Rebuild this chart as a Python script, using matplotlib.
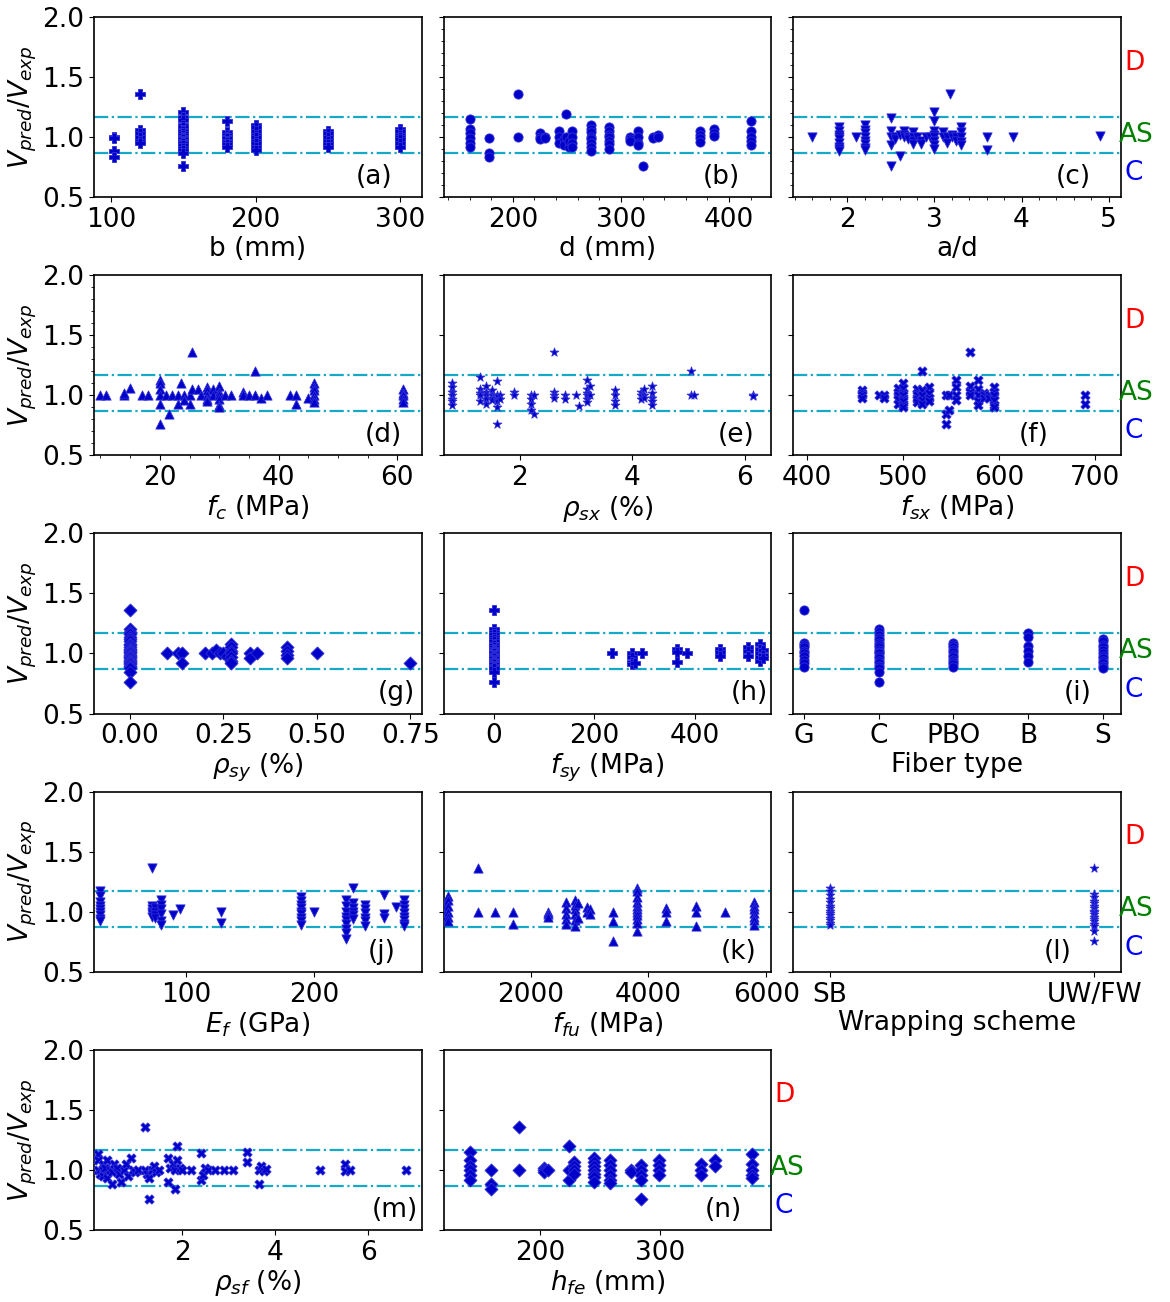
import matplotlib.pyplot as plt
import matplotlib.transforms as mtransforms

# V_pred/V_exp plotted against each parameter: (x value, [ratios at that x])
b_mm = [(102, [1.0, 0.99, 0.88, 0.83]),
        (120, [1.36, 1.06, 1.03, 1.0, 0.97, 0.95]),
        (150, [1.21, 1.17, 1.14, 1.1, 1.08, 1.06, 1.05, 1.03, 1.02, 1.0, 1.0, 0.99,
               0.98, 0.97, 0.96, 0.95, 0.93, 0.91, 0.89, 0.87, 0.76]),
        (180, [1.13, 1.04, 1.02, 1.0, 0.99, 0.97, 0.96, 0.94, 0.92]),
        (200, [1.1, 1.08, 1.05, 1.02, 1.0, 0.97, 0.95, 0.92, 0.89]),
        (250, [1.05, 1.03, 1.0, 0.97, 0.94, 0.92]),
        (300, [1.07, 1.05, 1.02, 1.0, 0.98, 0.95, 0.92])]

d_mm = [(160, [1.15, 1.07, 1.03, 0.99, 0.95, 0.92]),
        (178, [0.99, 0.87, 0.83]),
        (205, [1.36, 1.0]),
        (225, [1.03, 1.0, 0.98]),
        (230, [1.0, 0.99]),
        (243, [1.05, 1.0, 0.95]),
        (247, [0.98, 0.93]),
        (249, [1.19, 1.0]),
        (252, [0.92, 0.97]),
        (255, [1.05, 1.0, 0.95, 0.92]),
        (272, [1.1, 1.07, 1.04, 1.0, 0.98, 0.95, 0.92, 0.88]),
        (289, [1.08, 1.05, 1.02, 1.0, 0.97, 0.94, 0.9]),
        (308, [1.0, 0.98, 0.97]),
        (316, [1.05, 1.0, 0.95, 0.93]),
        (320, [0.76]),
        (330, [1.0, 0.99]),
        (334, [1.02, 1.0]),
        (373, [1.05, 1.02, 0.99, 0.96]),
        (386, [1.07, 1.03, 1.01]),
        (420, [1.13, 1.05, 1.0, 0.97, 0.93])]

a_d = [(1.6, [1.0]),
       (1.9, [1.08, 1.05, 1.02, 1.0, 0.98, 0.95, 0.92, 0.9, 0.88]),
       (2.1, [1.0]),
       (2.2, [1.1, 1.06, 1.03, 1.0, 0.97, 0.94, 0.91, 0.89]),
       (2.5, [1.16, 1.05, 1.0, 0.93, 0.76]),
       (2.55, [1.0, 0.98]),
       (2.6, [0.84, 1.02]),
       (2.65, [1.05, 1.02, 1.0]),
       (2.7, [1.0, 0.98]),
       (2.75, [1.04, 1.0, 0.97, 0.94]),
       (2.8, [1.0]),
       (2.85, [0.97, 0.94]),
       (2.9, [1.0]),
       (2.95, [1.0]),
       (3.0, [1.21, 1.13, 1.05, 1.02, 1.0, 0.97, 0.93, 0.9]),
       (3.1, [1.04, 1.0]),
       (3.15, [1.0, 0.95]),
       (3.18, [1.36]),
       (3.2, [1.02, 1.0]),
       (3.25, [1.0, 0.97]),
       (3.3, [1.08, 1.04, 1.0, 0.96, 0.93]),
       (3.6, [1.0, 0.89]),
       (3.9, [1.0]),
       (4.9, [1.01])]

fc_mpa = [(10, [1.0]), (11, [1.0]), (14, [1.0, 1.02]), (15, [1.06]), (17, [1.0]),
          (18, [1.0]), (20, [1.13, 1.1, 1.05, 1.0, 0.93, 0.76]), (21, [1.0]),
          (21.5, [0.84]), (22, [1.0]), (23, [0.93, 1.0]), (23.5, [1.1]),
          (24, [1.0, 0.96]), (25, [1.0, 0.93]), (25.5, [1.36, 1.05]), (26.5, [1.05]),
          (27, [1.0]), (28, [1.07, 1.04, 1.0, 0.97, 0.95]), (29, [1.05, 1.0]),
          (30, [1.08, 1.03, 1.0, 0.97, 0.92, 0.9]), (31, [1.0]), (32, [1.0]),
          (34, [1.03, 1.0]), (35, [1.0]), (36, [1.2, 1.0]), (37, [0.98]), (38, [1.0]),
          (42, [1.0]), (43, [1.0, 0.93]), (45, [0.98]),
          (46, [1.1, 1.07, 1.04, 1.0, 0.97, 0.94]),
          (61, [1.05, 1.02, 1.0, 0.97, 0.94])]

rho_sx = [(0.8, [1.1, 1.07, 1.03, 1.0, 0.97, 0.95, 0.92]),
          (1.3, [1.15, 1.05, 1.02, 1.0, 0.95]),
          (1.4, [1.08, 1.03, 1.0, 0.97, 0.93]),
          (1.5, [1.04, 1.0, 0.98, 0.96]),
          (1.6, [1.12, 1.0, 0.95, 0.9, 0.76]),
          (1.65, [1.0, 0.97]),
          (1.9, [1.03, 1.0]),
          (2.2, [1.0, 0.97, 0.93, 0.88]),
          (2.25, [1.0, 0.84]),
          (2.6, [1.36, 1.03, 1.0, 0.98]),
          (2.8, [1.0, 0.97]),
          (3.0, [1.0]),
          (3.05, [0.91]),
          (3.2, [1.13, 1.05, 1.02, 1.0, 0.97, 0.94]),
          (3.25, [1.08, 1.0]),
          (3.7, [1.04, 1.0, 0.95, 0.92]),
          (4.15, [1.03, 1.0, 0.97]),
          (4.2, [1.05, 1.0, 0.98]),
          (4.35, [1.08, 1.02, 0.98, 0.95, 0.92]),
          (5.05, [1.2, 1.0]),
          (5.1, [1.0]),
          (6.15, [1.0, 0.99])]

fsx_mpa = [(458, [1.04, 1.02, 1.0, 0.98]), (475, [1.0]), (480, [1.0, 0.98]),
           (495, [1.06, 1.03, 1.0, 0.97, 0.93]),
           (500, [1.1, 1.06, 1.02, 1.0, 0.97, 0.95, 0.92, 0.9]),
           (515, [1.05, 1.02, 1.0, 0.97, 0.94]),
           (520, [1.2, 1.04, 1.0, 0.96, 0.93]),
           (527, [1.07, 1.02, 0.98, 0.95]),
           (545, [1.0, 0.84, 0.76]), (548, [1.0, 0.88]),
           (555, [1.13, 1.07, 1.0, 0.96]),
           (570, [1.36, 1.08, 1.03, 1.0]),
           (578, [1.13, 1.05, 1.0, 0.95, 0.92]),
           (585, [1.02, 1.0, 0.98]), (590, [1.0, 0.98]),
           (595, [1.07, 1.03, 1.0, 0.96, 0.92, 0.9]),
           (690, [1.0, 0.93])]

# specimens without stirrups (x = 0)
no_stirrup = [1.36, 1.2, 1.18, 1.16, 1.14, 1.12, 1.1, 1.08, 1.07, 1.05, 1.04, 1.03,
              1.02, 1.01, 1.0, 0.99, 0.98, 0.97, 0.96, 0.95, 0.94, 0.93, 0.92, 0.91,
              0.9, 0.89, 0.88, 0.85, 0.76]

rho_sy = [(0.0, no_stirrup), (0.1, [1.0]), (0.13, [1.0]), (0.14, [1.0, 0.92]),
          (0.2, [1.0]), (0.22, [1.0]), (0.23, [1.03]), (0.24, [1.0]), (0.25, [1.0]),
          (0.26, [0.98]), (0.27, [1.08, 1.05, 1.02, 1.0, 0.97, 0.94, 0.92]),
          (0.32, [1.0, 0.96]), (0.34, [1.0]), (0.42, [1.05, 1.02, 0.99, 0.96]),
          (0.5, [1.0]), (0.75, [0.92])]

fsy_mpa = [(0, no_stirrup), (235, [1.0]), (275, [1.0, 0.97, 0.93, 0.91]), (280, [0.92]),
           (295, [1.0]), (365, [1.04, 1.01, 0.93]), (385, [1.0]),
           (450, [1.04, 1.01, 0.98]), (505, [1.05, 1.02, 0.98]),
           (530, [1.08, 1.04, 1.0, 0.97, 0.94]), (535, [1.03, 0.99, 0.96])]

fiber_type = [('G', [1.36, 1.09, 1.07, 1.05, 1.02, 1.0, 0.98, 0.95, 0.92, 0.89]),
              ('C', [1.2, 1.18, 1.15, 1.13, 1.11, 1.09, 1.07, 1.05, 1.03, 1.01, 1.0,
                     0.98, 0.96, 0.94, 0.92, 0.9, 0.88, 0.85, 0.76]),
              ('PBO', [1.09, 1.07, 1.05, 1.03, 1.01, 0.99, 0.97, 0.95, 0.93, 0.91, 0.89]),
              ('B', [1.17, 1.14, 1.06, 1.02, 0.98, 0.93]),
              ('S', [1.12, 1.1, 1.07, 1.05, 1.03, 1.0, 0.98, 0.96, 0.94, 0.92, 0.9, 0.88])]

ef_gpa = [(33, [1.17, 1.13, 1.08, 1.05, 1.02, 1.0, 0.97, 0.94, 0.92]),
          (73, [1.36, 1.05, 1.02, 1.0, 0.98, 0.96]),
          (76, [1.03, 1.0, 0.97, 0.95]),
          (80, [1.1, 1.06, 1.02, 0.98, 0.92, 0.89]),
          (90, [0.97]), (95, [1.02]), (127, [1.0, 0.91]),
          (190, [1.12, 1.09, 1.06, 1.03, 1.0, 0.98, 0.95, 0.92, 0.89]),
          (200, [1.0]),
          (225, [1.1, 1.05, 1.0, 0.96, 0.93, 0.9, 0.86, 0.82, 0.77]),
          (230, [1.2, 1.07, 1.03, 1.0, 0.97, 0.94]),
          (240, [1.06, 1.02, 0.99, 0.95, 0.92, 0.88]),
          (255, [1.14, 0.98, 0.95]), (264, [1.04]),
          (270, [1.1, 1.06, 1.02, 0.99, 0.96, 0.93, 0.9, 0.88])]

ffu_mpa = [(550, [1.06, 1.03, 1.0, 0.98, 0.95]),
           (600, [1.13, 1.1, 1.05, 1.0, 0.96, 0.92]),
           (1100, [1.36, 1.0]), (1400, [1.0]), (1700, [1.0, 0.9]),
           (2300, [1.0, 0.98, 0.96]),
           (2600, [1.08, 1.03, 0.98, 0.94, 0.9]),
           (2750, [1.1, 1.06, 1.02, 0.98, 0.93, 0.88]),
           (2800, [1.07, 0.95]), (2950, [1.04, 1.0]), (3000, [1.02, 0.98]),
           (3400, [1.0, 0.92, 0.76]),
           (3800, [1.2, 1.17, 1.12, 1.08, 1.05, 1.02, 1.0, 0.97, 0.94, 0.91, 0.84]),
           (4300, [1.03, 1.0, 0.92]), (4800, [1.05, 1.0, 0.88]), (5300, [1.0]),
           (5800, [1.08, 1.05, 1.02, 0.99, 0.96, 0.93, 0.89])]

wrapping = [('SB', [1.2, 1.17, 1.14, 1.11, 1.08, 1.05, 1.03, 1.01, 0.99, 0.97, 0.95,
                    0.93, 0.91, 0.89]),
            ('UW/FW', [1.36, 1.15, 1.12, 1.09, 1.07, 1.05, 1.03, 1.01, 1.0, 0.98, 0.96,
                       0.94, 0.92, 0.9, 0.88, 0.84, 0.76])]

rho_sf = [(0.2, [1.13, 1.08, 1.0]), (0.25, [0.97]), (0.3, [1.05, 1.0, 0.95]),
          (0.35, [1.02]), (0.4, [0.93, 1.08]), (0.45, [1.0]), (0.5, [0.88, 0.98]),
          (0.55, [1.05]), (0.6, [1.02]), (0.65, [0.97]), (0.7, [0.9]), (0.75, [1.0]),
          (0.8, [1.05]), (0.85, [0.95]), (0.9, [1.1]), (0.95, [1.0]), (1.0, [0.98]),
          (1.05, [1.0]), (1.2, [1.36, 1.0]), (1.25, [0.97]), (1.3, [0.93, 0.76]),
          (1.35, [1.0]), (1.4, [1.03]), (1.45, [0.98]), (1.5, [1.0]),
          (1.7, [1.1, 0.9]), (1.75, [1.02]), (1.8, [1.05]), (1.85, [0.84, 1.0]),
          (1.9, [1.2, 1.08]), (1.95, [1.02]), (2.0, [1.0]), (2.2, [1.0]),
          (2.4, [1.14, 0.92]), (2.45, [0.96]), (2.5, [1.02]), (2.55, [1.0]),
          (2.7, [1.0]), (2.9, [1.0]), (3.1, [1.0]), (3.4, [1.15, 1.07]),
          (3.65, [1.0, 0.88]), (3.7, [1.03]), (3.75, [0.99]), (3.8, [1.01]),
          (4.95, [1.0]), (5.5, [1.05, 0.99]), (5.6, [1.0]), (6.8, [1.0])]

hfe_mm = [(142, [1.15, 1.08, 1.03, 1.0, 0.96, 0.92]), (159, [1.0, 0.88, 0.84]),
          (183, [1.36, 1.0]), (203, [1.02, 1.0, 0.98]), (207, [1.0]),
          (224, [1.2, 0.92, 1.0]), (228, [1.07, 1.03, 1.0, 0.97]),
          (245, [1.1, 1.07, 1.03, 1.0, 0.97, 0.94, 0.9]),
          (258, [1.08, 1.04, 1.0, 0.96, 0.92, 0.89]), (276, [1.0, 0.98]),
          (284, [1.04, 1.0, 0.96, 0.92, 0.76]), (299, [1.08, 1.04, 1.0, 0.96]),
          (334, [1.05, 1.0, 0.96]), (345, [1.08, 1.03]),
          (376, [1.13, 1.05, 1.0, 0.96, 0.93])]

upper_limit = 1.17
lower_limit = 0.87

# (groups, marker, x label, xlim, xticks, letter, letter x, minor ticks)
panels = [
    (b_mm, 'P', 'b (mm)', (88, 315), [100, 200, 300], '(a)', 0.91, False),
    (d_mm, 'o', 'd (mm)', (136, 439), [200, 300, 400], '(b)', 0.905, True),
    (a_d, 'v', 'a/d', (1.38, 5.14), [2, 3, 4, 5], '(c)', 0.91, True),
    (fc_mpa, '^', r'$f_c$ (MPa)', (8.9, 64.1), [20, 40, 60], '(d)', 0.94, True),
    (rho_sx, '*', r'$\rho_{sx}$ (%)', (0.645, 6.47), [2, 4, 6], '(e)', 0.95, False),
    (fsx_mpa, 'X', r'$f_{sx}$ (MPa)', (386, 727), [400, 500, 600, 700], '(f)', 0.78, False),
    (rho_sy, 'D', r'$\rho_{sy}$ (%)', (-0.096, 0.78), [0.0, 0.25, 0.5, 0.75], '(g)', 0.98, False),
    (fsy_mpa, 'P', r'$f_{sy}$ (MPa)', (-100, 552), [0, 200, 400], '(h)', 0.99, False),
    (fiber_type, 'o', 'Fiber type', (-0.144, 4.24), None, '(i)', 0.91, False),
    (ef_gpa, 'v', r'$E_f$ (GPa)', (28, 284), [100, 200], '(j)', 0.92, False),
    (ffu_mpa, '^', r'$f_{fu}$ (MPa)', (520, 6085), [2000, 4000, 6000], '(k)', 0.955, False),
    (wrapping, '*', 'Wrapping scheme', (-0.14, 1.1), None, '(l)', 0.85, False),
    (rho_sf, 'X', r'$\rho_{sf}$ (%)', (0.11, 7.14), [2, 4, 6], '(m)', 0.99, False),
    (hfe_mm, 'D', r'$h_{fe}$ (mm)', (120, 392), [200, 300], '(n)', 0.91, False),
]


def expand(groups):
    xs, ys = [], []
    for x, vals in groups:
        xs += [x] * len(vals)
        ys += vals
    return xs, ys


fs = 19
fig, axes = plt.subplots(5, 3, figsize=(11.7, 13.02), dpi=100)
plt.subplots_adjust(left=0.0803, right=0.958, top=0.987, bottom=0.0553,
                    wspace=0.067, hspace=0.433)
axes = axes.ravel()
axes[14].remove()

for i, (groups, marker, xlabel, xlim, xticks, letter, lx, minor) in enumerate(panels):
    ax = axes[i]
    xs, ys = expand(groups)
    ax.scatter(xs, ys, marker=marker, color='#0000c8', s=44, linewidths=0.6,
               edgecolors='#3030d8', zorder=3)
    ax.axhline(upper_limit, color='#17a8c8', linestyle='-.', linewidth=1.6, zorder=2)
    ax.axhline(lower_limit, color='#17a8c8', linestyle='-.', linewidth=1.6, zorder=2)

    ax.set_ylim(0.5, 2.0)
    ax.set_yticks([0.5, 1.0, 1.5, 2.0])
    ax.set_xlim(*xlim)
    if xticks is not None:
        ax.set_xticks(xticks)
        if letter == '(g)':
            ax.set_xticklabels(['%.2f' % t for t in xticks])
    if minor:
        ax.minorticks_on()
    ax.tick_params(labelsize=fs)
    ax.set_xlabel(xlabel, fontsize=fs, labelpad=2)
    for sp in ax.spines.values():
        sp.set_linewidth(1.2)

    if i % 3 == 0:
        ax.set_ylabel(r'$V_{pred}/V_{exp}$', fontsize=fs, labelpad=2)
    else:
        ax.tick_params(labelleft=False)

    ax.text(lx, 0.04, letter, transform=ax.transAxes, ha='right', va='bottom',
            fontsize=fs)

    # failure mode zones on the right of each row
    if i % 3 == 2 or i == 13:
        trans = mtransforms.blended_transform_factory(ax.transAxes, ax.transData)
        ax.text(1.01, 1.62, 'D', color='red', transform=trans, ha='left',
                va='center', fontsize=fs)
        ax.text(0.995, 1.02, 'AS', color='green', transform=trans, ha='left',
                va='center', fontsize=fs)
        ax.text(1.01, 0.7, 'C', color='blue', transform=trans, ha='left',
                va='center', fontsize=fs)

plt.savefig('out.png', dpi=100)
